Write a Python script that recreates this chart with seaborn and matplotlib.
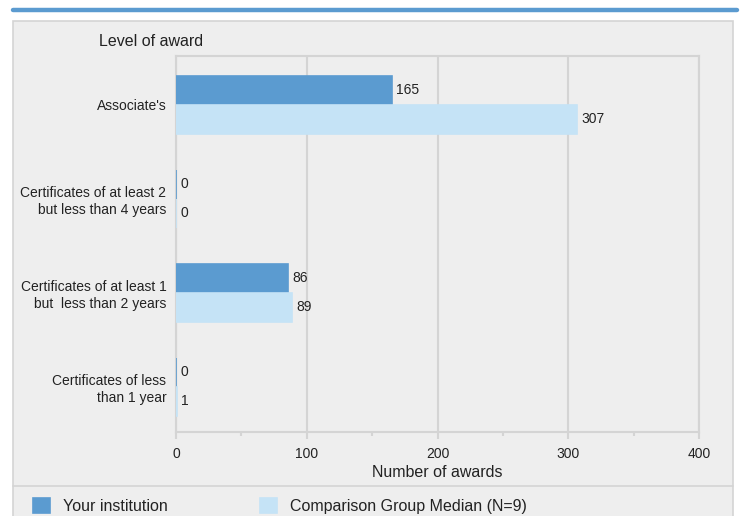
import pandas as pd
import seaborn as sns
import matplotlib.pyplot as plt
from matplotlib.patches import Rectangle
from matplotlib.lines import Line2D

# Chart values
levels = [
    "Associate's",
    "Certificates of at least 2\nbut less than 4 years",
    "Certificates of at least 1\nbut  less than 2 years",
    "Certificates of less\nthan 1 year",
]
groups = ["Your institution", "Comparison Group Median (N=9)"]
your_institution = [165, 0, 86, 0]
comparison_median = [307, 0, 89, 1]
x_ticks = [0, 100, 200, 300, 400]

colors = ["#5b9bd0", "#c5e3f6"]
grid_col = "#d4d4d4"
panel_col = "#eeeeee"
text_col = "#222222"

df = pd.DataFrame({
    "level": levels * 2,
    "awards": your_institution + comparison_median,
    "group": [groups[0]] * len(levels) + [groups[1]] * len(levels),
})

sns.set_theme(style="white")
plt.rcParams["font.family"] = ["Liberation Sans", "DejaVu Sans"]
plt.rcParams["text.color"] = text_col

W, H = 742, 516
fig = plt.figure(figsize=(W / 100, H / 100), dpi=100)
fig.patch.set_facecolor("white")

# outer panel, blue top rule and legend separator (kept behind the axes)
fig.patches.append(Rectangle((13 / W, -0.01), 720 / W, 1.01 - 21 / H, transform=fig.transFigure,
                             facecolor=panel_col, edgecolor=grid_col, linewidth=1.2, zorder=-5))
fig.lines.append(Line2D([13 / W, 737 / W], [1 - 9.5 / H, 1 - 9.5 / H], transform=fig.transFigure,
                        color="#5b9bd0", linewidth=3.2, zorder=-4))
fig.lines.append(Line2D([13 / W, 733 / W], [1 - 486 / H, 1 - 486 / H], transform=fig.transFigure,
                        color=grid_col, linewidth=1.2, zorder=-4))

ax = fig.add_axes([176 / W, 1 - 432 / H, 523 / W, 376 / H])
ax.set_facecolor("none")

sns.barplot(data=df, y="level", x="awards", hue="group", orient="h",
            palette=colors, saturation=1, width=0.62, order=levels, hue_order=groups,
            errorbar=None, ax=ax)

for p in ax.patches:
    p.set_edgecolor(p.get_facecolor())
    p.set_linewidth(1.2)
    p.set_zorder(3)

for c in ax.containers:
    ax.bar_label(c, padding=3, fontsize=10, color=text_col)

ax.set_xlim(0, 400)
ax.set_ylim(3.48, -0.52)
ax.set_xticks(x_ticks)
ax.set_xticks([50, 150, 250, 350], minor=True)
ax.grid(axis="x", color=grid_col, linewidth=1.5)
ax.set_axisbelow(True)
for s in ax.spines.values():
    s.set_color(grid_col)
    s.set_linewidth(1.5)
    s.set_visible(True)

ax.tick_params(axis="x", which="major", length=5, width=1.5, color=grid_col,
               labelsize=10, labelcolor=text_col, pad=6, bottom=True)
ax.tick_params(axis="x", which="minor", length=3, width=1.5, color=grid_col, bottom=True)
ax.tick_params(axis="y", length=0, labelsize=10, labelcolor=text_col, pad=7)
for lbl in ax.get_yticklabels():
    lbl.set_horizontalalignment("right")
    lbl.set_multialignment("right")

ax.set_ylabel("")
ax.set_xlabel("Number of awards", fontsize=11.5, color=text_col, labelpad=3)
fig.text(99 / W, 1 - 41 / H, "Level of award", fontsize=11.5, color=text_col,
         ha="left", va="center")

handles, labels = ax.get_legend_handles_labels()
ax.legend_.remove()
fig.legend(handles, labels, loc="center left", bbox_to_anchor=(33 / W, 1 - 506 / H),
           ncol=2, frameon=False, fontsize=11.5, handlelength=1.06, handleheight=1.1,
           handletextpad=0.8, columnspacing=5.8, borderaxespad=0, borderpad=0)

fig.savefig("out.png", dpi=100)
plt.close(fig)
